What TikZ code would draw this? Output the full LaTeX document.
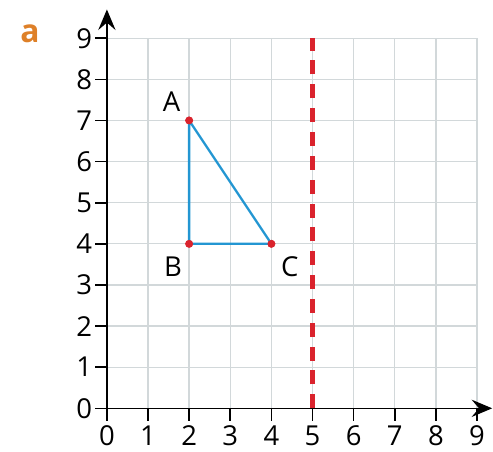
\documentclass[tikz,border=0pt]{standalone}
\usepackage{fontspec}
\setmainfont{Open Sans}
\usetikzlibrary{arrows.meta,positioning}
\definecolor{gridgrey}{RGB}{210,216,218}
\definecolor{triblue}{RGB}{35,150,210}
\definecolor{mirrorred}{RGB}{218,35,45}
\definecolor{partorange}{RGB}{222,128,40}
\tikzset{
  gridline/.style ={draw=gridgrey,line width=0.9pt},
  axis/.style     ={draw=black,line width=1.1pt,-{Stealth[length=5mm,width=4.2mm,inset=1.8mm]}},
  axistick/.style ={draw=black,line width=1.1pt},
  numlabel/.style ={font=\fontsize{19}{22}\selectfont,inner sep=0pt},
  vertex/.style   ={circle,fill=mirrorred,inner sep=0pt,minimum size=1.9mm},
  side/.style     ={draw=triblue,line width=1.6pt},
  mirror/.style   ={draw=mirrorred,line width=3pt,dash pattern=on 3.4mm off 2.4mm},
  ptlabel/.style  ={font=\fontsize{19}{22}\selectfont,inner sep=0pt}
}
\begin{document}
\begin{tikzpicture}
  \useasboundingbox (-2.60,-1.06) rectangle (9.39,9.93);
  % grid
  \foreach \i in {1,...,9} {
    \draw[gridline] (\i,0) -- (\i,9);
    \draw[gridline] (0,\i) -- (9,\i);
  }
  % axes and graduations
  \coordinate (origin) at (0,0);
  \coordinate (xend) at (9.37,0);
  \coordinate (yend) at (0,9.70);
  \draw[axis] (origin) -- (xend);
  \draw[axis] (origin) -- (yend);
  \foreach \i in {0,...,9} {
    \draw[axistick] (\i,0) -- (\i,-0.3);
    \draw[axistick] (0,\i) -- (-0.3,\i);
    \node[numlabel] (xl\i) at (\i,-0.66) {\i};
    \node[numlabel] (yl\i) at (-0.55,\i) {\i};
  }
  % mirror line x = 5
  \coordinate (mbot) at (5,0);
  \coordinate (mtop) at (5,9);
  \draw[mirror] (mbot) -- (mtop);
  % triangle ABC
  \node[vertex] (A) at (2,7) {};
  \node[vertex] (B) at (2,4) {};
  \node[vertex] (C) at (4,4) {};
  \draw[side] (A.center) -- (B.center) -- (C.center) -- cycle;
  \node[vertex] at (A) {};
  \node[vertex] at (B) {};
  \node[vertex] at (C) {};
  \node[ptlabel] (lA) at (1.57,7.46) {A};
  \node[ptlabel] (lB) at (1.61,3.45) {B};
  \node[ptlabel] (lC) at (4.45,3.45) {C};
  % part letter
  \node[font=\fontsize{22}{24}\selectfont\bfseries,text=partorange,inner sep=0pt] (part) at (-1.87,9.12) {a};
\end{tikzpicture}
\end{document}
